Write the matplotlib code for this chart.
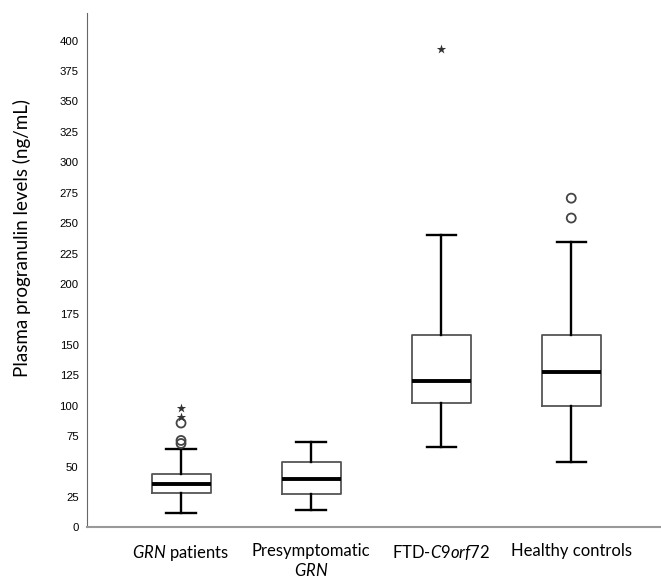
import matplotlib
matplotlib.use("Agg")
import matplotlib.pyplot as plt

# ---- data ----
groups = ["$\\mathit{GRN}$ patients", "Presymptomatic\n$\\mathit{GRN}$", "FTD-$\\mathit{C9orf72}$", "Healthy controls"]
medians = [35.7, 40.1, 120.5, 127.4]
q1 = [28.3, 27.8, 102.5, 100.0]
q3 = [43.9, 54.0, 158.4, 158.4]
whisk_lo = [11.9, 14.5, 66.0, 54.0]
whisk_hi = [64.5, 70.1, 240.5, 234.5]
# outliers: circles (mild) and stars (extreme), per group
circle_outliers = [[69.0, 71.5, 85.8], [], [], [254.2, 270.5]]
star_outliers = [[91.0, 98.0], [], [393.2], []]
yticks = list(range(0, 401, 25))

plt.rcParams['mathtext.fontset'] = 'custom'
plt.rcParams['mathtext.rm'] = 'Lato'
plt.rcParams['mathtext.it'] = 'Lato:italic'

fig = plt.figure(figsize=(6.61, 5.83), dpi=100)
ax = fig.add_axes([0.1316, 0.0952, 0.8684, 0.8825])

positions = [1, 2, 3, 4]
stats = []
for i in range(len(groups)):
    stats.append(dict(med=medians[i], q1=q1[i], q3=q3[i],
                      whislo=whisk_lo[i], whishi=whisk_hi[i], fliers=[]))

ax.bxp(stats, positions=positions, widths=0.454, showfliers=False,
       capwidths=0.225,
       boxprops=dict(color='#555555', linewidth=1.3),
       medianprops=dict(color='black', linewidth=2.8),
       whiskerprops=dict(color='black', linewidth=1.7),
       capprops=dict(color='black', linewidth=1.7))

for p, vals in zip(positions, circle_outliers):
    if vals:
        ax.scatter([p] * len(vals), vals, s=42, facecolors='none',
                   edgecolors='#444444', linewidths=1.3, zorder=3)
for p, vals in zip(positions, star_outliers):
    if vals:
        ax.scatter([p] * len(vals), vals, s=50, marker='*', color='#333333',
                   linewidths=0, zorder=3)

ax.set_xlim(0.277, 4.69)
ax.set_ylim(0, 422.6)
ax.set_yticks(yticks)
ax.set_yticklabels([str(t) for t in yticks], fontfamily='Liberation Sans', fontsize=8.2)
ax.set_xticks(positions)
ax.set_xticklabels(groups, fontfamily='Lato', fontsize=12)
ax.tick_params(axis='both', length=0)
ax.tick_params(axis='y', pad=6)
ax.tick_params(axis='x', pad=11)

for s in ['top', 'right']:
    ax.spines[s].set_visible(False)
ax.spines['left'].set_color('#666666')
ax.spines['bottom'].set_color('#999999')
ax.spines['bottom'].set_linewidth(1.5)

fig.text(22 / 661, 1 - 238 / 583, "Plasma progranulin levels (ng/mL)", rotation=90,
         ha='center', va='center', fontfamily='Lato', fontsize=13.5)

fig.savefig("out.png", dpi=100)
